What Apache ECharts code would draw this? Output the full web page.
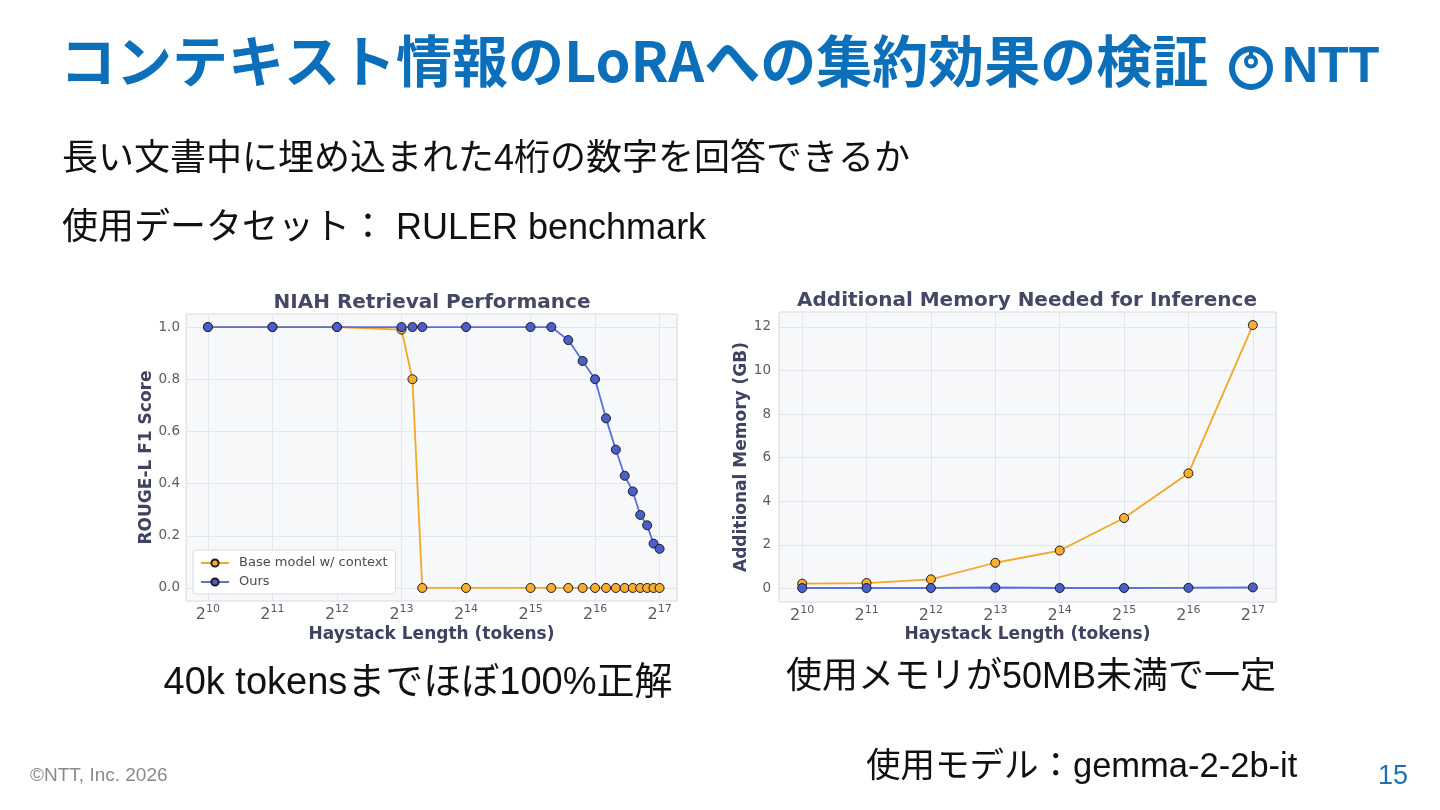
<!DOCTYPE html>
<html>
<head>
<meta charset="utf-8">
<script src="https://cdn.jsdelivr.net/npm/echarts@6/dist/echarts.min.js"></script>
<style>
html,body{margin:0;padding:0;background:#ffffff;}
#c{width:1440px;height:810px;}
</style>
</head>
<body>
<div id="c"></div>
<script>
// ---- data ----
const seriesNames = ['Base model w/ context', 'Ours'];

const niahTokens = [1024, 2048, 4096, 8192, 9216, 10240, 16384, 32768, 40960, 49152, 57344, 65536, 73728, 81920, 90112, 98304, 106496, 114688, 122880, 131072];
const niahBase   = [1.00, 1.00, 1.00, 0.99, 0.80, 0.00, 0.00, 0.00, 0.00, 0.00, 0.00, 0.00, 0.00, 0.00, 0.00, 0.00, 0.00, 0.00, 0.00, 0.00];
const niahOurs   = [1.00, 1.00, 1.00, 1.00, 1.00, 1.00, 1.00, 1.00, 1.00, 0.95, 0.87, 0.80, 0.65, 0.53, 0.43, 0.37, 0.28, 0.24, 0.17, 0.15];

const memTokens = [1024, 2048, 4096, 8192, 16384, 32768, 65536, 131072];
const memBase   = [0.22, 0.25, 0.42, 1.18, 1.74, 3.23, 5.28, 12.08];
const memOurs   = [0.02, 0.02, 0.02, 0.04, 0.02, 0.02, 0.03, 0.05];

const scoreTicks = [0.0, 0.2, 0.4, 0.6, 0.8, 1.0];
const memTicks   = [0, 2, 4, 6, 8, 10, 12];

// ---- styles ----
const BLUE_T = '#0b6fba';
const ORANGE_LINE = '#f5a623';
const ORANGE_FILL = '#f7ae30';
const BLUE_LINE = '#5a70dc';
const BLUE_FILL = '#4b5fc9';
const TICK_C = '#5a5b68';
const NAME_C = '#3f4360';
const GRID_C = '#e3e6eb';
const CJK = '"Noto Sans CJK JP"';
const LAT = '"Liberation Sans", "Noto Sans CJK JP"';

function pairs(xs, ys) { return xs.map((x, i) => [x, ys[i]]); }

function xAxisCfg(gi, minExp, maxExp, gap) {
  return {
    type: 'log', logBase: 2, gridIndex: gi,
    min: Math.pow(2, minExp), max: Math.pow(2, maxExp),
    splitNumber: 7,
    axisLine: {show: false}, axisTick: {show: false},
    axisLabel: {
      showMinLabel: false, showMaxLabel: false, margin: 3,
      formatter: v => '{b|2}{s|' + Math.round(Math.log2(v)) + '}',
      rich: {
        b: {fontFamily: 'DejaVu Sans', fontSize: 16, color: TICK_C},
        s: {fontFamily: 'DejaVu Sans', fontSize: 11, color: TICK_C, padding: [0, 0, 10, 0]}
      }
    },
    splitLine: {show: true, lineStyle: {color: GRID_C, width: 1}},
    name: 'Haystack Length (tokens)', nameLocation: 'middle', nameGap: gap,
    nameTextStyle: {fontFamily: 'DejaVu Sans', fontWeight: 'bold', fontSize: 17, color: NAME_C}
  };
}

function yAxisCfg(gi, mn, mx, ticks, fmt, name, gap, margin) {
  return {
    type: 'value', gridIndex: gi, min: mn, max: mx,
    axisLine: {show: false},
    axisTick: {show: false, customValues: ticks},
    axisLabel: {customValues: ticks, formatter: fmt, margin: margin,
      fontFamily: 'DejaVu Sans', fontSize: 13.5, color: TICK_C},
    splitLine: {show: true, lineStyle: {color: GRID_C, width: 1}},
    name: name, nameLocation: 'middle', nameGap: gap,
    nameTextStyle: {fontFamily: 'DejaVu Sans', fontWeight: 'bold', fontSize: 17, color: NAME_C}
  };
}

function lineSeries(name, xi, data, isBase, width) {
  return {
    type: 'line', name: name, xAxisIndex: xi, yAxisIndex: xi, data: data,
    symbol: 'circle', symbolSize: 9, clip: false,
    lineStyle: {color: isBase ? ORANGE_LINE : BLUE_LINE, width: width},
    itemStyle: {color: isBase ? ORANGE_FILL : BLUE_FILL, borderColor: '#1c1c24', borderWidth: 1},
    emphasis: {disabled: true},
    z: isBase ? 3 : 4
  };
}

function txt(text, x, y, font, fill, align) {
  return {type: 'text', x: x, y: y, silent: true,
    style: {text: text, font: font, fill: fill, align: align || 'left', verticalAlign: 'middle'}};
}

const chart = echarts.init(document.getElementById('c'));

chart.setOption({
  animation: false,
  backgroundColor: '#ffffff',
  grid: [
    {left: 186, top: 314, width: 491, height: 287, show: true, backgroundColor: '#f6f8fa', borderColor: '#d6dae0', borderWidth: 1},
    {left: 779, top: 312, width: 497, height: 290, show: true, backgroundColor: '#f6f8fa', borderColor: '#d6dae0', borderWidth: 1}
  ],
  xAxis: [
    xAxisCfg(0, 9.66, 17.27, 25),
    xAxisCfg(1, 9.64, 17.36, 24)
  ],
  yAxis: [
    yAxisCfg(0, -0.05, 1.05, scoreTicks, v => v.toFixed(1), 'ROUGE-L F1 Score', 29, 6),
    yAxisCfg(1, -0.62, 12.68, memTicks, v => String(v), 'Additional Memory (GB)', 26, 8)
  ],
  legend: {
    data: seriesNames, left: 193, top: 550, orient: 'vertical',
    itemWidth: 28, itemHeight: 9, itemGap: 5, padding: [6, 8, 5, 7],
    backgroundColor: '#ffffff', borderColor: '#d9dce2', borderWidth: 1, borderRadius: 3,
    selectedMode: false,
    textStyle: {fontFamily: 'DejaVu Sans', fontSize: 13, lineHeight: 14, color: '#4a4a55', padding: [0, 0, 0, 5]}
  },
  series: [
    lineSeries(seriesNames[0], 0, pairs(niahTokens, niahBase), true, 1.8),
    lineSeries(seriesNames[1], 0, pairs(niahTokens, niahOurs), false, 1.8),
    lineSeries(seriesNames[0], 1, pairs(memTokens, memBase), true, 1.8),
    lineSeries(seriesNames[1], 1, pairs(memTokens, memOurs), false, 2)
  ],
  graphic: [
    txt('コンテキスト情報のLoRAへの集約効果の検証', 60, 61, 'bold 56px ' + CJK, BLUE_T),
    txt('長い文書中に埋め込まれた4桁の数字を回答できるか', 62, 160, '36px ' + LAT, '#111111'),
    txt('使用データセット： RULER benchmark', 62, 229, '36px ' + LAT, '#111111'),
    txt('NIAH Retrieval Performance', 432, 303, 'bold 20px "DejaVu Sans"', '#444864', 'center'),
    txt('Additional Memory Needed for Inference', 1027, 301, 'bold 20px "DejaVu Sans"', '#444864', 'center'),
    txt('40k tokensまでほぼ100%正解', 418, 684, '38px ' + LAT, '#111111', 'center'),
    txt('使用メモリが50MB未満で一定', 1031, 678, '36px ' + LAT, '#111111', 'center'),
    txt('使用モデル：gemma-2-2b-it', 866, 767, '34.5px ' + LAT, '#111111'),
    txt('©NTT, Inc. 2026', 30, 776, '19px ' + LAT, '#8a8a8a'),
    txt('15', 1378, 777, '27px ' + LAT, '#1f6fb2'),
    // NTT logo
    {type: 'circle', silent: true, shape: {cx: 1251, cy: 68, r: 19}, style: {fill: 'none', stroke: BLUE_T, lineWidth: 6}},
    {type: 'line', silent: true, shape: {x1: 1251, y1: 49, x2: 1251, y2: 56}, style: {stroke: BLUE_T, lineWidth: 4}},
    {type: 'circle', silent: true, shape: {cx: 1251, cy: 61.5, r: 5}, style: {fill: 'none', stroke: BLUE_T, lineWidth: 4}},
    txt('NTT', 1282, 68, 'bold 50px "Liberation Sans"', BLUE_T)
  ]
});
</script>
</body>
</html>
